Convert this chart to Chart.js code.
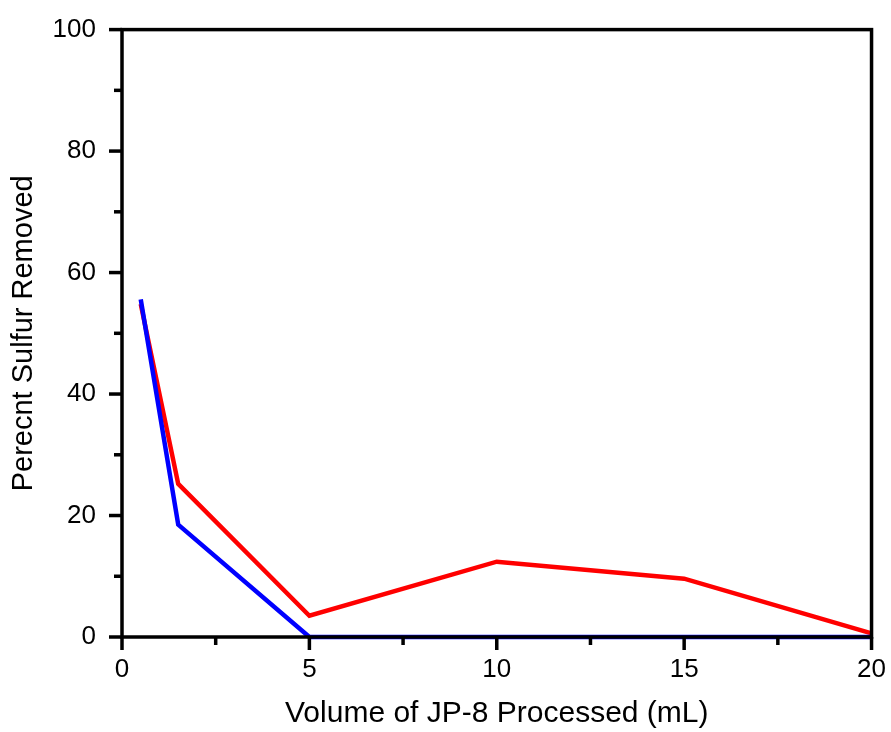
<!DOCTYPE html>
<html>
<head>
<meta charset="utf-8">
<script src="https://cdn.jsdelivr.net/npm/chart.js@4/dist/chart.umd.min.js"></script>
<style>
  html, body { margin: 0; padding: 0; background: #fff; }
  #wrap { width: 891px; height: 732px; position: relative; }
</style>
</head>
<body>
<div id="wrap"><canvas id="c" width="891" height="732"></canvas></div>
<script>
// ---- data ----
const volumes = [0.5, 1.5, 5, 10, 15, 20];
const redSeries = [54.8, 25.2, 3.5, 12.4, 9.6, 0.6];
const blueSeries = [55.6, 18.5, 0, 0, 0, 0];
const xMajorTicks = [0, 5, 10, 15, 20];
const xMinorTicks = [2.5, 7.5, 12.5, 17.5];
const yMajorTicks = [0, 20, 40, 60, 80, 100];
const yMinorTicks = [10, 30, 50, 70, 90];
const xTitle = 'Volume of JP-8 Processed (mL)';
const yTitle = 'Perecnt Sulfur Removed';

const toPts = (ys) => volumes.map((x, i) => ({x: x, y: ys[i]}));

const framePlugin = {
  id: 'frame',
  afterDraw(chart) {
    const {ctx, chartArea: a, scales} = chart;
    ctx.save();
    ctx.strokeStyle = '#000';
    ctx.lineWidth = 3.5;
    ctx.lineCap = 'butt';
    ctx.strokeRect(a.left, a.top, a.right - a.left, a.bottom - a.top);
    const drawX = (vals, len) => {
      vals.forEach(v => {
        const px = scales.x.getPixelForValue(v);
        ctx.beginPath(); ctx.moveTo(px, a.bottom); ctx.lineTo(px, a.bottom + len); ctx.stroke();
      });
    };
    const drawY = (vals, len) => {
      vals.forEach(v => {
        const py = scales.y.getPixelForValue(v);
        ctx.beginPath(); ctx.moveTo(a.left, py); ctx.lineTo(a.left - len, py); ctx.stroke();
      });
    };
    drawX(xMajorTicks, 13); drawX(xMinorTicks, 8);
    drawY(yMajorTicks, 13); drawY(yMinorTicks, 8);
    ctx.restore();
  }
};

const FONT = 'Liberation Sans, Arial, sans-serif';

new Chart(document.getElementById('c'), {
  type: 'line',
  data: {
    datasets: [
      { label: 'blue', data: toPts(blueSeries), borderColor: '#0000ff', borderWidth: 4.5, pointRadius: 0, fill: false, tension: 0, clip: false },
      { label: 'red', data: toPts(redSeries), borderColor: '#ff0000', borderWidth: 4.5, pointRadius: 0, fill: false, tension: 0, clip: false }
    ]
  },
  options: {
    responsive: false,
    animation: false,
    devicePixelRatio: 1,
    layout: { padding: { top: 29, right: 18, left: 0, bottom: 0 } },
    plugins: { legend: { display: false }, tooltip: { enabled: false } },
    scales: {
      x: {
        type: 'linear', min: 0, max: 20,
        afterFit(s) { s.height = 95; },
        border: { display: false },
        grid: { drawOnChartArea: false, drawTicks: true, tickLength: 12, tickColor: 'rgba(0,0,0,0)' },
        ticks: { stepSize: 5, padding: 5, color: '#000', font: { family: FONT, size: 26 }, maxRotation: 0 },
        title: { display: true, text: xTitle, color: '#000', font: { family: FONT, size: 30 }, padding: { top: 0, bottom: 0 } }
      },
      y: {
        type: 'linear', min: 0, max: 100,
        afterFit(s) { s.width = 122; },
        border: { display: false },
        grid: { drawOnChartArea: false, drawTicks: true, tickLength: 12, tickColor: 'rgba(0,0,0,0)' },
        ticks: { stepSize: 20, padding: 14, color: '#000', font: { family: FONT, size: 26 } },
        title: { display: true, text: yTitle, color: '#000', font: { family: FONT, size: 29 }, padding: { top: 7, bottom: 0 } }
      }
    }
  },
  plugins: [framePlugin]
});
</script>
</body>
</html>
